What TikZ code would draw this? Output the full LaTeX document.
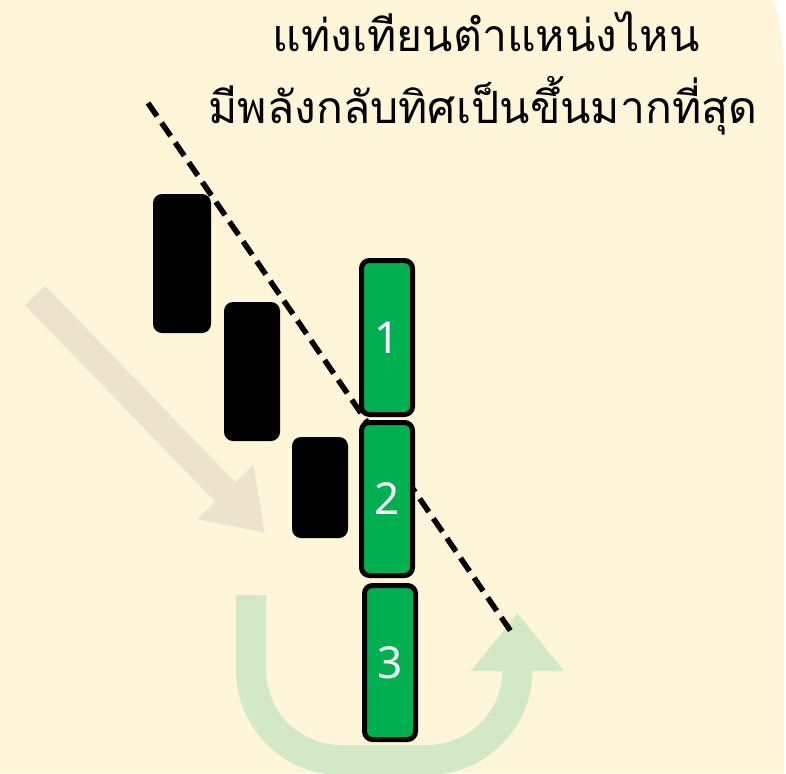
\documentclass[tikz,border=0pt]{standalone}
\usepackage{fontspec}
\newfontfamily\thaifont[Script=Thai]{Loma}
\newfontfamily\digitfont{Noto Sans}
\usepackage{tikz}
\usetikzlibrary{arrows.meta}
\definecolor{cream}{HTML}{FFF5D8}
\definecolor{candlegreen}{HTML}{00AF50}
\definecolor{sandarrow}{HTML}{EDE3CC}
\definecolor{paleleaf}{HTML}{D3E8C4}
\tikzstyle{bear}=[
	rectangle,
	rounded corners=9pt,
	fill=black,
	inner sep=0pt
]
\tikzstyle{bull}=[
	rectangle,
	rounded corners=8pt,
	draw=black,
	line width=5pt,
	fill=candlegreen,
	text=white,
	inner sep=0pt,
	minimum width=51pt,
	minimum height=154pt,
	font=\digitfont\fontsize{44}{44}\selectfont
]
\tikzstyle{trend}=[
	draw=black,
	line width=5.5pt,
	dash pattern=on 16pt off 8pt
]
\tikzstyle{headline}=[
	font=\thaifont\fontsize{44.5}{50}\selectfont,
	inner sep=0pt,
	anchor=base
]
\tikzstyle{flow}=[
	-{Triangle[length=57pt, width=74pt]}
]

\begin{document}
\begin{tikzpicture}[x=1pt, y=-1pt]
\useasboundingbox (0,0) rectangle (786,773);
\fill[cream] (0,0) -- (773,0) .. controls (781,20) and (784,50) .. (784,80) -- (784,773) -- (0,773) -- cycle;

% falling and turning arrows
\coordinate (ftail) at (35,295.5);
\coordinate (fhead) at (265,533);
\draw[flow, sandarrow, line width=28pt] (ftail) -- (fhead);

\coordinate (utail) at (251,595);
\coordinate (uhead) at (517.5,613);
\draw[-{Triangle[length=58pt, width=89pt]}, paleleaf, line width=30pt, rounded corners=90pt]
    (utail) -- (251,760) -- (517.5,760) -- (uhead);

% trend line
\coordinate (ltop) at (148,103);
\coordinate (lend) at (512,633);
\draw[trend] (ltop) -- (lend);

% candles
\foreach \n/\x/\y/\w/\h in {1/182/263.5/58/139, 2/252/371.5/56/139, 3/320/487.5/56/101} {
    \node[bear, minimum width=\w pt, minimum height=\h pt] (b\n) at (\x,\y) {};
}
\node[bull] (g1) at (387,337.5) {1};
\node[bull, minimum height=153pt] (g2) at (387,499) {2};
\node[bull] (g3) at (390,662.5) {3};

\node[headline] (t1) at (486,52) {แท่งเทียนตำแหน่งไหน};
\node[headline] (t2) at (483,123) {มีพลังกลับทิศเป็นขึ้นมากที่สุด};
\end{tikzpicture}
\end{document}
